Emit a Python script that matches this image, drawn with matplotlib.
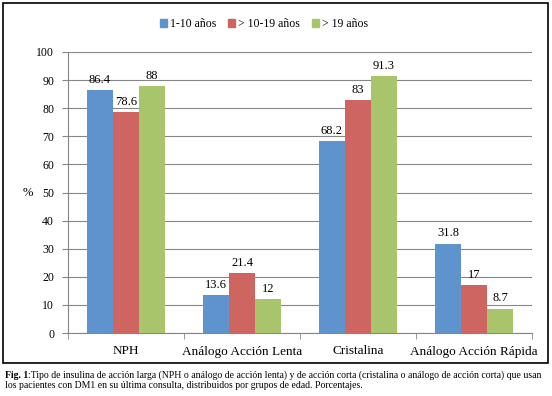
import numpy as np
import matplotlib.pyplot as plt
import matplotlib.patches as mpatches

plt.rcParams['font.family'] = ['Liberation Serif', 'DejaVu Serif']

categories = ['NPH', 'Análogo Acción Lenta', 'Cristalina', 'Análogo Acción Rápida']
series_names = ['1-10 años', '> 10-19 años', '> 19 años']
v_1_10 = [86.4, 13.6, 68.2, 31.8]
v_10_19 = [78.6, 21.4, 83, 17]
v_19 = [88, 12, 91.3, 8.7]
labels_1_10 = ['86.4', '13.6', '68.2', '31.8']
labels_10_19 = ['78.6', '21.4', '83', '17']
labels_19 = ['88', '12', '91.3', '8.7']
colors = ['#5F93CD', '#CF6560', '#A9C56C']

fig = plt.figure(figsize=(5.52, 3.96), dpi=100)
ax = fig.add_axes([68 / 552, 1 - 333 / 396, 464 / 552, 281 / 396])

x = np.arange(len(categories))
w = 0.225
for i, (vals, labs) in enumerate([(v_1_10, labels_1_10), (v_10_19, labels_10_19), (v_19, labels_19)]):
    bars = ax.bar(x + (i - 1) * w, vals, w, color=colors[i], zorder=3, label=series_names[i])
    for b, lab in zip(bars, labs):
        ax.text(b.get_x() + b.get_width() / 2, b.get_height() + 1.5, lab,
                ha='center', va='bottom', fontsize=9, zorder=4)

ax.set_xlim(-0.5, 3.5)
ax.set_ylim(0, 100)
ax.set_yticks(range(0, 101, 10))
ax.tick_params(axis='y', labelsize=8.5, length=4, color='#868686', pad=6)
ax.set_xticks(x)
ax.set_xticklabels(categories, fontsize=9.5)
ax.set_xticks(np.arange(-0.5, 4, 1), minor=True)
ax.tick_params(axis='x', which='major', length=0, pad=9)
ax.tick_params(axis='x', which='minor', length=4, color='#868686')
ax.grid(axis='y', color='#868686', linewidth=0.8, zorder=0)
for s in ['top', 'right']:
    ax.spines[s].set_visible(False)
ax.spines['left'].set_color('#868686')
ax.spines['bottom'].set_color('#868686')
ax.set_ylabel('%', rotation=0, fontsize=9, va='center', ha='center')
ax.yaxis.set_label_coords(-40 / 464, 0.5)

handles = [mpatches.Patch(color=c) for c in colors]
fig.legend(handles, series_names, loc='center', bbox_to_anchor=(264 / 552, 1 - 24 / 396),
           ncol=3, frameon=False, fontsize=8.5, handlelength=0.6, handleheight=0.6,
           handletextpad=0.25, columnspacing=1.0)

fig.add_artist(mpatches.Rectangle((3 / 552, 1 - 363 / 396), 545 / 552, 360 / 396,
                                  transform=fig.transFigure, fill=False,
                                  edgecolor='black', linewidth=1.2))

t1 = fig.text(5 / 552, 1 - 375 / 396, 'Fig. 1', fontsize=7, fontweight='bold', va='center')
renderer = fig.canvas.get_renderer()
x_end = t1.get_window_extent(renderer).x1 / fig.bbox.width
fig.text(x_end, 1 - 375 / 396,
         ':Tipo de insulina de acción larga (NPH o análogo de acción lenta) y de acción corta (cristalina o análogo de acción corta) que usan',
         fontsize=7, va='center')
fig.text(5 / 552, 1 - 385 / 396,
         'los pacientes con DM1 en su última consulta, distribuidos por grupos de edad. Porcentajes.',
         fontsize=7, va='center')

fig.savefig('out.png', dpi=100)
